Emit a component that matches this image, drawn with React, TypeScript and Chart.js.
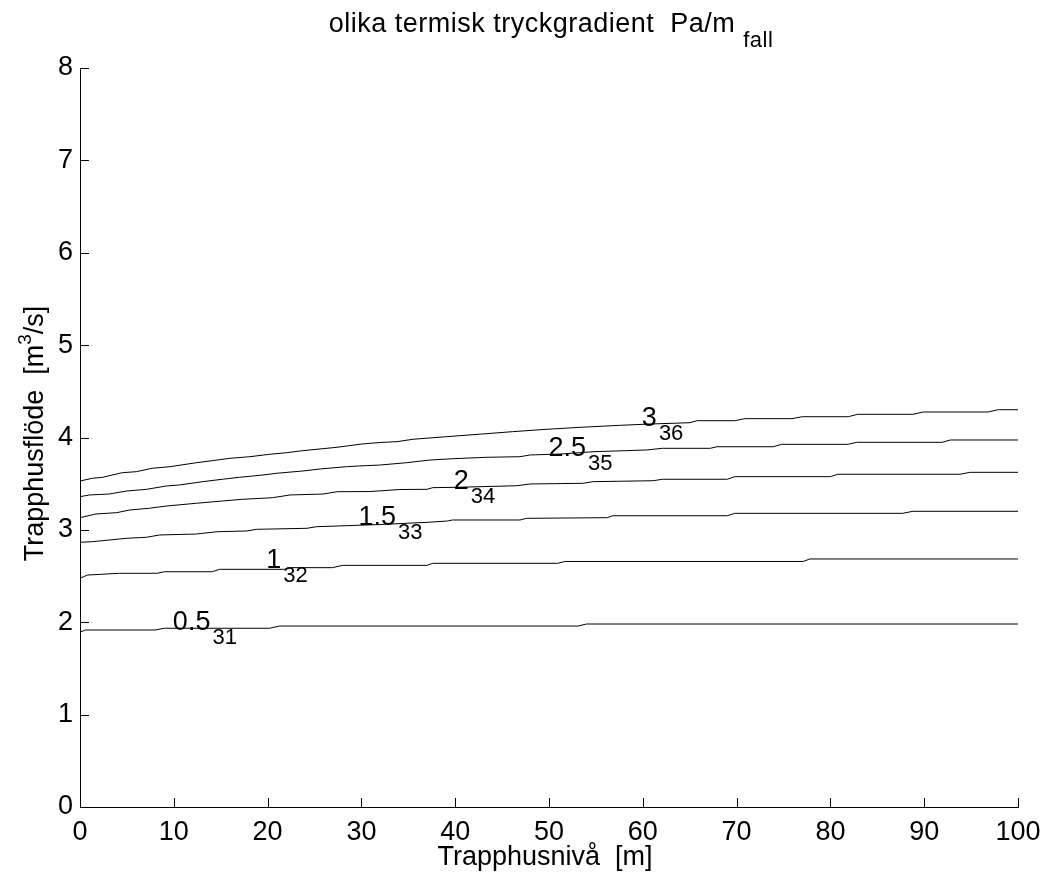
import React, { useEffect, useRef } from 'react';
import { Chart, registerables } from 'chart.js';

Chart.register(...registerables);

// Contour lines (x = Trapphusnivå [m], y = Trapphusflöde [m³/s])
const x05 = [0, 0.6, 8, 9, 20.2, 21.3, 53.1, 54, 100];
const y05 = [1.894, 1.916, 1.916, 1.935, 1.935, 1.959, 1.959, 1.981, 1.981];

const x1 = [0, 0.8, 4.2, 8.2, 9, 14.1, 14.9, 21.8, 22.6, 26.9, 28, 37, 37.6, 50.9, 51.7, 77.1, 77.8, 100];
const y1 = [2.476, 2.511, 2.53, 2.53, 2.547, 2.547, 2.573, 2.573, 2.591, 2.591, 2.616, 2.616, 2.638, 2.638, 2.658, 2.658, 2.685, 2.685];

const x15 = [0, 1.3, 5, 7.1, 8.5, 12.4, 14.6, 17.8, 18.8, 24.2, 25.2, 27.4, 32, 37, 39.2, 39.7, 46.9, 47.6, 56.2, 56.8, 69, 69.8, 87.7, 88.8, 100];
const y15 = [2.866, 2.872, 2.909, 2.92, 2.945, 2.955, 2.98, 2.988, 3.006, 3.017, 3.034, 3.042, 3.058, 3.082, 3.096, 3.107, 3.107, 3.125, 3.132, 3.153, 3.153, 3.179, 3.179, 3.201, 3.201];

const x2 = [0, 1.7, 3.9, 5.3, 7.4, 9.2, 12.4, 15.2, 17.3, 20.5, 22.4, 25.9, 27.4, 30.9, 34.1, 37, 37.6, 40.2, 46.6, 48, 53.6, 54.7, 61.1, 62.1, 69, 69.8, 80, 80.8, 93.8, 94.9, 100];
const y2 = [3.132, 3.172, 3.186, 3.215, 3.234, 3.258, 3.288, 3.313, 3.331, 3.348, 3.378, 3.388, 3.413, 3.415, 3.437, 3.439, 3.457, 3.461, 3.478, 3.497, 3.504, 3.522, 3.532, 3.548, 3.548, 3.576, 3.576, 3.602, 3.602, 3.623, 3.623];

const x25 = [0, 1, 3.1, 5, 7.1, 9.2, 10.6, 13.1, 15.2, 17, 19.5, 21, 23.7, 25.6, 28.4, 29.8, 32, 34.8, 37.3, 39.7, 43.4, 46.9, 48, 51.2, 54.7, 60.4, 62.1, 67.2, 67.9, 73.9, 74.8, 81.9, 82.8, 91.9, 92.8, 100];
const y25 = [3.359, 3.378, 3.388, 3.421, 3.439, 3.475, 3.486, 3.522, 3.548, 3.569, 3.594, 3.613, 3.637, 3.659, 3.684, 3.692, 3.702, 3.727, 3.756, 3.77, 3.786, 3.792, 3.811, 3.821, 3.846, 3.865, 3.883, 3.883, 3.9, 3.9, 3.926, 3.926, 3.948, 3.948, 3.973, 3.973];

const x3 = [0, 1.3, 2.4, 4.5, 6, 7.7, 9.6, 12.4, 14.1, 16, 18.1, 20.2, 22, 23.7, 25.9, 27.4, 30.1, 32, 33.8, 35.5, 39.1, 42.9, 46.1, 49.8, 53.3, 57.6, 60.8, 65, 65.8, 69.8, 70.9, 75.9, 77, 81.9, 82.9, 88.8, 89.9, 96.8, 97.9, 100];
const y3 = [3.529, 3.558, 3.569, 3.619, 3.63, 3.667, 3.684, 3.727, 3.749, 3.775, 3.792, 3.818, 3.835, 3.857, 3.879, 3.894, 3.93, 3.946, 3.955, 3.981, 4.009, 4.038, 4.063, 4.089, 4.11, 4.132, 4.146, 4.16, 4.182, 4.182, 4.204, 4.204, 4.225, 4.225, 4.251, 4.251, 4.276, 4.276, 4.301, 4.301];

// Contour labels: level text, subscript index, anchor in data units
const levelText = ['0.5', '1', '1.5', '2', '2.5', '3'];
const levelIndex = ['31', '32', '33', '34', '35', '36'];
const levelLabelX = [9.9, 19.85, 29.7, 39.85, 49.95, 59.9];
const levelLabelY = [1.916, 2.587, 3.053, 3.443, 3.8, 4.125];

const titleMain = 'olika termisk tryckgradient  Pa/m ';
const titleSub = 'fall';
const xTitle = 'Trapphusnivå  [m]';
const yTitleMain = 'Trapphusflöde  [m';
const yTitleSup = '3';
const yTitleEnd = '/s]';

const FONT = '"Liberation Sans", Arial, Helvetica, sans-serif';
const MAIN = 27;
const SMALL = 22;

type Seg = { t: string; size: number; dy: number };

function richWidth(ctx: CanvasRenderingContext2D, segs: Seg[]) {
  let w = 0;
  for (const s of segs) {
    ctx.font = `${s.size}px ${FONT}`;
    w += ctx.measureText(s.t).width;
  }
  return w;
}

function drawRich(ctx: CanvasRenderingContext2D, segs: Seg[], x: number, y: number) {
  let cx = x;
  for (const s of segs) {
    ctx.font = `${s.size}px ${FONT}`;
    ctx.fillText(s.t, cx, y + s.dy);
    cx += ctx.measureText(s.t).width;
  }
}

function zip(xs: number[], ys: number[]) {
  const n = Math.min(xs.length, ys.length);
  const out: { x: number; y: number }[] = [];
  for (let i = 0; i < n; i++) out.push({ x: xs[i], y: ys[i] });
  return out;
}

const matlabPlugin = {
  id: 'matlabDecor',
  afterDraw(chart: any) {
    const ctx: CanvasRenderingContext2D = chart.ctx;
    const xs = chart.scales.x;
    const ys = chart.scales.y;
    const { left, right, top, bottom } = chart.chartArea;
    ctx.save();
    // inward tick marks
    ctx.strokeStyle = '#000';
    ctx.lineWidth = 1;
    ctx.beginPath();
    xs.ticks.forEach((t: any) => {
      const px = Math.round(xs.getPixelForValue(t.value)) + 0.5;
      ctx.moveTo(px, bottom);
      ctx.lineTo(px, bottom - 9);
    });
    ys.ticks.forEach((t: any) => {
      const py = Math.round(ys.getPixelForValue(t.value)) + 0.5;
      ctx.moveTo(left, py);
      ctx.lineTo(left + 9, py);
    });
    ctx.stroke();

    ctx.fillStyle = '#000';
    ctx.textAlign = 'left';
    ctx.textBaseline = 'alphabetic';

    // contour labels
    for (let i = 0; i < levelText.length; i++) {
      const px = xs.getPixelForValue(levelLabelX[i]);
      const py = ys.getPixelForValue(levelLabelY[i]);
      ctx.font = `${MAIN}px ${FONT}`;
      const w = ctx.measureText(levelText[i]).width;
      ctx.fillText(levelText[i], px, py);
      ctx.font = `${SMALL}px ${FONT}`;
      ctx.fillText(levelIndex[i], px + w + 2, py + 14);
    }

    // title
    (ctx as any).letterSpacing = '0.5px';
    const tSegs: Seg[] = [
      { t: titleMain, size: MAIN, dy: 0 },
      { t: titleSub, size: SMALL, dy: 15 },
    ];
    const cx = (left + right) / 2;
    const tw = richWidth(ctx, tSegs);
    drawRich(ctx, tSegs, cx - tw / 2 + 2, 32);
    (ctx as any).letterSpacing = '0px';

    // x title
    ctx.font = `${MAIN}px ${FONT}`;
    const xw = ctx.measureText(xTitle).width;
    ctx.fillText(xTitle, cx - xw / 2 - 4, 865);

    // y title (rotated)
    const ySegs: Seg[] = [
      { t: yTitleMain, size: MAIN, dy: 0 },
      { t: yTitleSup, size: SMALL - 3, dy: -12 },
      { t: yTitleEnd, size: MAIN, dy: 0 },
    ];
    const yw = richWidth(ctx, ySegs);
    ctx.translate(43, (top + bottom) / 2 - 4);
    ctx.rotate(-Math.PI / 2);
    drawRich(ctx, ySegs, -yw / 2, 0);
    ctx.restore();
  },
};

export default function App() {
  const canvasRef = useRef<HTMLCanvasElement | null>(null);

  useEffect(() => {
    if (!canvasRef.current) return;
    const lineStyle = {
      borderColor: '#000',
      borderWidth: 1,
      pointRadius: 0,
      fill: false,
      tension: 0,
    };
    const chart = new Chart(canvasRef.current, {
      type: 'line',
      data: {
        datasets: [
          { label: '0.5', data: zip(x05, y05), ...lineStyle },
          { label: '1', data: zip(x1, y1), ...lineStyle },
          { label: '1.5', data: zip(x15, y15), ...lineStyle },
          { label: '2', data: zip(x2, y2), ...lineStyle },
          { label: '2.5', data: zip(x25, y25), ...lineStyle },
          { label: '3', data: zip(x3, y3), ...lineStyle },
        ],
      },
      options: {
        responsive: false,
        animation: false,
        devicePixelRatio: 1,
        layout: { padding: { left: 0, top: 68, right: 28, bottom: 0 } },
        plugins: {
          legend: { display: false },
          tooltip: { enabled: false },
          title: { display: false },
        },
        scales: {
          x: {
            type: 'linear',
            min: 0,
            max: 100,
            ticks: { stepSize: 10, color: '#000', font: { size: MAIN, family: FONT }, padding: 9, maxRotation: 0 },
            grid: { display: false, drawTicks: false, tickLength: 0 },
            border: { display: true, color: '#000', width: 1 },
            afterFit: (s: any) => { s.height = 77; s.paddingLeft = 0; s.paddingRight = 0; },
          },
          y: {
            type: 'linear',
            min: 0,
            max: 8,
            ticks: { stepSize: 1, color: '#000', font: { size: MAIN, family: FONT }, padding: 7 },
            grid: { display: false, drawTicks: false, tickLength: 0 },
            border: { display: true, color: '#000', width: 1 },
            afterFit: (s: any) => { s.width = 80; s.paddingTop = 0; s.paddingBottom = 0; },
          },
        },
      } as any,
      plugins: [matlabPlugin],
    });
    return () => chart.destroy();
  }, []);

  return (
    <div style={{ position: 'absolute', left: 0, top: 0, width: 1046, height: 884, background: '#fff' }}>
      <canvas ref={canvasRef} width={1046} height={884} style={{ display: 'block' }} />
    </div>
  );
}
